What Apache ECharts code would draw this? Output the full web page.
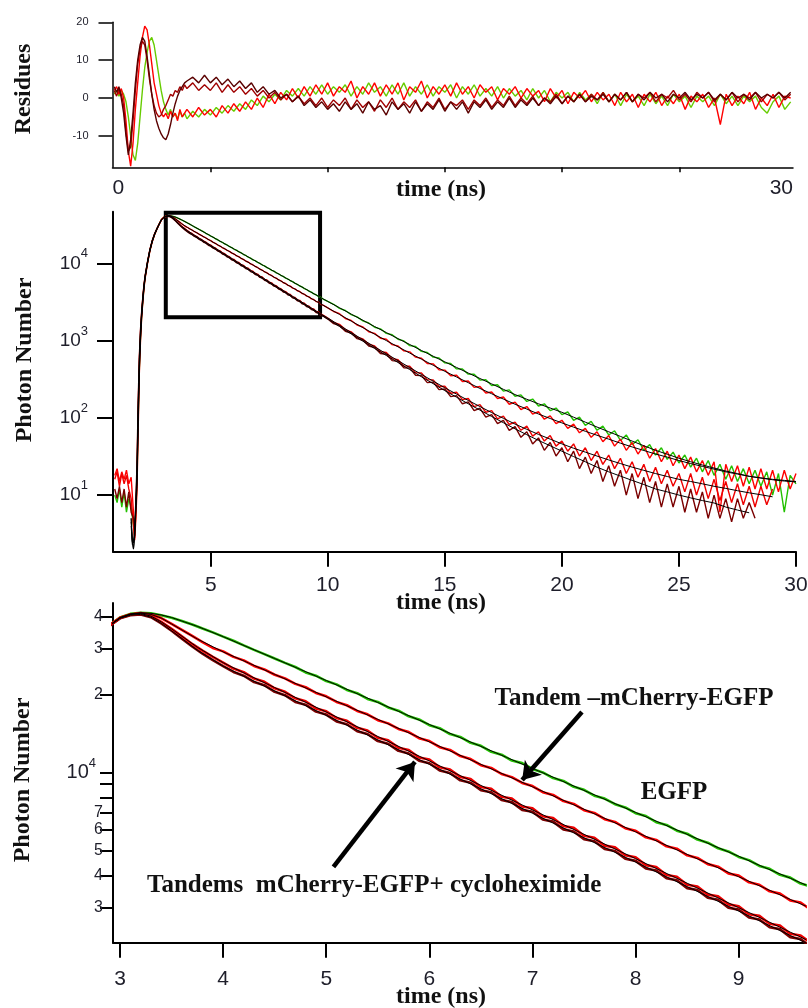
<!DOCTYPE html>
<html><head><meta charset="utf-8">
<script src="https://cdn.jsdelivr.net/npm/echarts@6/dist/echarts.min.js"></script>
<style>html,body{margin:0;padding:0;background:#fff}#c{width:808px;height:1008px}</style>
</head><body><div id="c"></div>
<script>
// ---- time channels: [start (ns), step (ns), count] ----
const decayChannels = [[0.9,0.1,9],[1.75,0.05,10],[2.3,0.1,76],[10,0.25,81]];
const fitChannels = [[1.6,0.05,13],[2.3,0.1,13],[3.75,0.25,26],[10.5,0.5,40]];
const residueChannels = [[0.9,0.1,32],[4.25,0.25,103]];

// ---- photon counts (data) ----
const egfpCounts = [
 10,8,12,7,11,6,9,7,4,
 3,6,14,90,420,1100,2100,3300,5000,6700,
 10200,14600,19200,23600,27800,32300,37000,39600,40900,41300,
 41100,40400,39500,38400,37200,35900,34700,33400,32200,30900,
 29700,28600,27500,26450,25500,24300,23600,22500,21850,20800,
 20200,19200,18700,17800,17300,16450,16000,15200,14800,14050,
 13700,13000,12650,12000,11700,11100,10850,10300,9990,9500,
 9260,8790,8560,8120,7920,7530,7320,6950,6780,6420,
 6260,5950,5790,5500,5350,5090,4950,4710,4580,4350,
 4240,4020,3920,3720,3620,3450,
 3210,2950,2610,2450,2170, 2030,1800,1690,1490, 1420,1240,1190,1040, 990,860,840,725,
 700,610,595,515, 505,430,428,368, 366,308,312,262, 268,222,230,190, 198,163,175,142,
 152,124,134,110, 119,93,102,80, 90,69,78,60, 68,51,60,45, 52,38,45,33, 41,29,36,26,
 33,23,30,20, 28,18,25,16, 24,15,22,14, 21,13,20,10, 19,6,18,14
];
const tandemCounts = [
 18,22,15,20,16,21,14,17,6,
 2.6,5,12,70,380,1000,2000,3200,4800,6500,
 10000,14400,19000,23400,27600,32100,36800,39400,40700,41200,
 40700,39400,37400,35500,33600,31800,30200,29300,27900,27050,
 25750,24950,23800,23050,21950,21300,20250,19650,18700,18150,
 17250,16750,15900,15450,14700,14300,13550,13200,12500,12200,
 11550,11250,10650,10400,9850,9580,9100,8850,8380,8180,
 7740,7550,7140,6970,6590,6430,6080,5940,5610,5480,
 5180,5070,4780,4670,4420,4320,4070,3990,3760,3680,
 3470,3400,3200,3140,2950,2880,
 2650,2380,2230,1930,1820, 1590,1500,1300,1240, 1070,1040,885,850, 735,715,610,590,
 505,500,420,415, 350,356,296,300, 248,254,210,216, 178,186,150,160, 128,140,112,120,
 96,106,84,93, 73,83,64,73, 56,66,49,59, 43,53,38,48, 34,44,30,40, 27,37,24,33,
 22,31,20,28, 18,27,6,25, 15,24,13,23, 12,22,12,21, 11,21,12,19
];
const cyclo1Counts = [
 16,20,13,19,14,18,12,9,4,
 2.8,6,18,130,560,1300,2300,3600,5200,6900,
 10400,14900,19500,23900,28000,32400,37000,39500,40700,41000,
 40100,38100,35800,33500,31300,29500,27900,26500,25150,24350,
 23000,22350,21100,20450,19300,18800,17650,17200,16200,15800,
 14850,14500,13600,13300,12450,12200,11400,11200,10450,10250,
 9600,9420,8780,8640,8050,7920,7380,7260,6760,6660,
 6200,6100,5690,5590,5210,5130,4780,4700,4380,4310,
 4010,3950,3680,3620,3370,3320,3090,3040,2830,2790,
 2600,2560,2380,2345,2190,2140,
 1960,1720,1620,1390,1300, 1110,1050,900,850, 720,700,585,565, 470,465,385,380,
 312,310,255,256, 208,214,172,178, 140,148,118,124, 97,105,82,88, 69,78,58,66,
 50,59,43,50, 37,46,32,41, 28,37,25,33, 22,30,19,27, 17,25,15,23, 14,21,13,19,
 11,19,10,17, 9,16,8.5,15, 8,14,7.5,13, 7,13,7.5,12
];
const cyclo2Counts = [
 12,9,13,8,12,7,11,6,5,
 3.5,8,25,160,620,1400,2400,3700,5300,7000,
 10500,15000,19600,24000,28100,32300,36900,39300,40400,40700,
 39700,37600,35200,32800,30600,28700,27100,25700,24400,23600,
 22300,21700,20450,19850,18700,18250,17150,16700,15720,15330,
 14400,14060,13200,12890,12100,11820,11090,10840,10160,9940,
 9310,9120,8530,8370,7820,7670,7160,7040,6570,6450,
 6020,5910,5520,5420,5060,4970,4640,4550,4250,4180,
 3900,3830,3570,3510,3280,3220,3000,2950,2750,2700,
 2520,2480,2310,2270,2120,2080,
 1900,1660,1560,1320,1250, 1060,1010,850,815, 680,665,550,540, 445,440,356,352,
 286,290,232,236, 188,194,152,161, 124,133,102,110, 84,93,69,77, 56,66,46,55,
 38,48,32,41, 27,37,22,31, 19,28,15,24, 13,21,10,19, 9,17,8,15, 7,14,7,13,
 6,12,6,11, 5,10,5,9, 4.5,9,5,8, 5
];

// ---- fitted decays ----
const egfpFit = [
 5,2.5,2.0,3.0,7,15,95,430,1100,2100,3300,5000,6700,
 10200,14600,19200,23600,27800,32300,37000,39600,40900,41300,41100,40500,39600,
 36600,33400,30300,27500,24950,22620,20510,18600,16870,15300,13870,12590,11410,
 10350,9390,8510,7720,7000,6350,5760,5220,4740,4290,3900,3530,3210,
 2660,2200,1830,1520,1270,1060,890,745,628,530,449,380,323,275,234,200,174,152,134,118,
 102,88,76,66,57.5,50,43.5,38,33.8,30,27,24.5,22.4,20.5,19,17.5,16.7,16,15.5,15
];
const tandemFit = [
 5,2.5,2.0,2.8,6,13,75,390,1000,2000,3200,4800,6500,
 10000,14400,19000,23400,27600,32100,36800,39400,40700,41200,40700,39400,37400,
 32700,29170,26400,23880,21610,19560,17700,16010,14490,13110,11860,10730,9710,
 8790,7950,7200,6510,5890,5330,4820,4365,3950,3575,3230,2925,2650,
 2180,1790,1470,1210,1000,830,690,575,480,400,338,285,240,205,175,150,130,112,98,86,
 75.8,67,59.5,53,47,42,37.8,34,31,28,25.6,23.5,21.7,20,18.7,17.5,16.6,15.8,15.2,14.8
];
const cyclo1Fit = [
 4,2.3,2.2,3,7,18,125,540,1280,2300,3600,5200,6900,
 10400,14900,19500,23900,28000,32400,37000,39500,40700,41000,40100,38100,35800,
 30400,26500,23670,21240,19050,17090,15330,13750,12330,11060,9920,8900,7985,
 7160,6425,5760,5170,4640,4160,3730,3345,3000,2695,2415,2165,1960,
 1580,1270,1027,830,675,550,448,365,299,245,203,168,140,117,98.6,83,71,61,53,46,
 40.4,36,32,28.5,25.6,23,20.9,19,17.4,16,15,14,13,12.2,11.4,10.7,10.1,9.5
];
const cyclo2Fit = [
 4.5,2.6,2.4,3.6,8,24,155,600,1380,2400,3700,5300,7000,
 10500,15000,19600,24000,28100,32300,36900,39300,40400,40700,39700,37600,35200,
 29600,25700,22960,20600,18480,16580,14870,13340,11960,10730,9620,8635,7745,
 6950,6230,5590,5015,4500,4035,3620,3245,2910,2615,2345,2100,1900,
 1520,1220,982,790,641,520,421,340,277,225,185,152,126,104,86.5,72,60.5,51,43.5,37,
 31.5,27,23,20,17.6,15.5,13.7,12,11,10,9.2,8.5,7.9,7.0,6.4,5.9
];

// ---- residues ----
const resGreen = [
 1,2,0.5,2,1,-1,-5,-10,-15,-16.5, -12,-5,2,8,12,15,16,14,10,6, 2,-1,-3,-4.5,-3,-5,-4,-5.5,-3.5,-5, -4,-5.5,
 -3.5,-5,-3,-4.5, -2.5,-4,-2,-3.5, -1.5,-3,-0.5,-2, 0.5,-1,1,-0.5, 2,0.5,2.5,0.5, 3,1,3.5,1,
 3,1.5,3.5,0.5, 3,1,4,1.5, 3,0.5,3.5,1, 4,0.5,3,1, 3.5,0.5,3,1.5, 3.5,0,3,1, 3.5,0.5,2.5,0.5,
 3,0,2.5,0.5, 2,-0.5,2.5,0, 2,-1,1.5,0, 1.5,-1,1.5,-0.5, 1,-1.5,1.5,-1, 1,-2,1,-1, 0.5,-2,1,-1.5,
 0.5,-2,1,-1, 0.5,-2.5,0.5,-1, 0.5,-2,1,-1.5, 0.5,-2,0.5,-1, 0.5,-2.5,-4,-1, 0.5,-3,-1
];
const resRed = [
 2,3,1,2.5,0,-6,-14,-18,-12,-3, 4,11,16,19,18,14,9,4,1,-2, -4,-5,-4,-5.5,-3.5,-5,-4,-6,-3,-5, -4,-3,
 -5,-2.5,-4.5,-3, -5,-2,-4,-1.5, -3.5,-1,-3,0, -2.5,1,-1.5,1.5, -0.5,2.5,0,3, 0.5,3.5,1,4,
 0.5,3,1.5,4.5, 0,3,1,4, 0.5,3.5,1,4, -0.5,3,1.5,4.5, 0,3,1,3.5, 0.5,4,1,3, 0,3.5,1.5,3,
 -0.5,2.5,1,3, 0,2.5,0.5,2, -1,2.5,0,2, -1.5,1.5,0,2, -1,1.5,-0.5,1, -2,1.5,-1,1, -2.5,1,-1,1.5,
 -2,0.5,-1.5,1, -3,0.5,-1,1, -2.5,0,-7,1, -2,0.5,-1.5,1.5, -3,0,-2,1, -2.5,0.5,0
];
const resDark = [
 2,0.5,2.5,1,-2,-9,-14,-13,-6,2, 9,13,15,14,10,5,1,-2,-4,-5, -4.5,-3,-2,-0.5,1,0.5,2,1.5,3,2, 3.5,2.5,
 4,2,3.5,2, 4,1.5,3.5,1.5, 3,1,2.5,0.5, 2,0,1.5,-0.5, 1,-1,0.5,-1.5, 0,-2,0,-2.5,
 -0.5,-2,0,-3, -0.5,-2.5,-1,-3.5, -0.5,-2.5,0,-3, -1,-2.5,-0.5,-3.5, -1,-2.5,0,-3, -1,-2,-0.5,-3, -0.5,-2,0,-2.5,
 -0.5,-2,0.5,-2, 0,-1.5,0.5,-2, 0,-1,1,-1.5, 0.5,-1,1,-1, 1,-0.5,1.5,-1, 1,-0.5,1.5,-1, 1,0,1.5,-1,
 1,0,2,-0.5, 1,-1,1.5,0, 1.5,-1,1,-0.5, 1.5,-1,1,0, 1.5,-1,1,0, 1.5,-0.5,1
];
const resMaroon = [
 3,1.5,3,0,-4,-10,-15,-11,-4,4, 10,14,16,15,11,6,1,-3,-6,-8, -9.5,-10.5,-11,-9.5,-7,-4,-1.5,0.5,2,3, 4,4.5,
 5.5,4,6,4, 5.5,3.5,5,3, 4.5,2.5,4,1.5, 3,1,2,0, 1,-1,0.5,-2, -0.5,-2.5,-1,-3,
 -1.5,-3.5,-1,-3, -1.5,-4,-1,-3, -2,-4.5,-1,-3, -1.5,-4,-1,-3.5, -1.5,-3,-0.5,-3.5, -1,-3,-1,-4, -1,-2.5,-0.5,-3,
 -1,-2.5,0,-2.5, -0.5,-2,0,-2, 0,-1.5,0.5,-1.5, 0.5,-1,1,-1, 0.5,-0.5,1,-1, 1,-0.5,1.5,-1, 1,-0.5,1.5,0,
 1,-1,1,0, 1.5,-0.5,1,0, 1.5,-0.5,1,-0.5, 1.5,0,1,-0.5, 1.5,0,1,0, 1.5,0,1.5
];

// ---- axis tick values ----
const resYTicks = [-10,0,10,20];
const resXTicks = [5,10,15,20,25];
const midXTicks = [5,10,15,20,25,30];
const midYTicks = [10,100,1000,10000];
const zoomXTicks = [3,4,5,6,7,8,9];
const zoomYTicks = [3000,4000,5000,6000,7000,8000,9000,10000,20000,30000,40000];
const zoomYLabels = [3000,4000,5000,6000,7000,10000,20000,30000,40000];

// ---- annotations (data coordinates) ----
const zoomBox = {t:[3.08,9.67], n:[2000,45200]};
const arrows = [
 {from:[7.48,17100], to:[6.90,9340]},
 {from:[5.07,4310], to:[5.86,10960]}
];

// ---------------------------------------------------------------
function channelTimes(segs){const t=[];segs.forEach(([s,d,n])=>{for(let i=0;i<n;i++)t.push(Math.round((s+i*d)*1000)/1000);});return t;}
function pairs(times,vals){return vals.map((v,i)=>[times[i],v]);}
const decayT=channelTimes(decayChannels), fitT=channelTimes(fitChannels), resT=channelTimes(residueChannels);

const TXT='#1e1e2a', SANS='Liberation Sans';
const dataSets=[
 {vals:egfpCounts,color:'#22c000'},
 {vals:tandemCounts,color:'#ff0000'},
 {vals:cyclo1Counts,color:'#ee0000'},
 {vals:cyclo2Counts,color:'#7a0000'}
];
const fitSets=[egfpFit,tandemFit,cyclo1Fit,cyclo2Fit];
const resSets=[
 {vals:resGreen,color:'#66cc00'},
 {vals:resRed,color:'#ff0000'},
 {vals:resDark,color:'#a00000'},
 {vals:resMaroon,color:'#5a0000'}
];

const axLine=(w)=>({show:true,onZero:false,lineStyle:{color:'#000',width:w}});
const line=(p,data,color,width,z)=>({type:'line',xAxisIndex:p,yAxisIndex:p,data,symbol:'none',silent:true,itemStyle:{color},lineStyle:{color,width},z});
const series=[];
resSets.forEach(s=>series.push(line(0,pairs(resT,s.vals),s.color,1.4,2)));
// overview panel: data below, thin fits on top
dataSets.forEach(s=>series.push(line(1,pairs(decayT,s.vals),s.color,1.4,2)));
fitSets.forEach(f=>series.push(line(1,pairs(fitT,f),'#000',1,3)));
// zoom panel: coloured data drawn wide underneath, thin black fits on top
[0,1,3,2].forEach(i=>series.push(line(2,pairs(decayT,dataSets[i].vals),dataSets[i].color,2.6,2)));
fitSets.forEach(f=>series.push(line(2,pairs(fitT,f),'#000',1,3)));

// zoom box on overview panel
series.push({type:'line',xAxisIndex:1,yAxisIndex:1,data:[],silent:true,z:5,
 markArea:{silent:true,itemStyle:{color:'rgba(0,0,0,0)',borderColor:'#000',borderWidth:4},label:{show:false},
  data:[[{coord:[zoomBox.t[0],zoomBox.n[1]]},{coord:[zoomBox.t[1],zoomBox.n[0]]}]]}});
// arrows on zoom panel
series.push({type:'line',xAxisIndex:2,yAxisIndex:2,data:[],silent:true,z:5,
 markLine:{silent:true,animation:false,itemStyle:{color:'#000'},label:{show:false},lineStyle:{color:'#000',width:4.5,type:'solid'},
  symbol:['none','arrow'],symbolSize:16,
  data:arrows.map(a=>[{coord:a.from,symbol:'none'},{coord:a.to,symbol:'arrow',symbolSize:17}])}});

const title=(x,y,text,rot,size,align)=>({type:'text',x,y,rotation:rot||0,z:10,style:{text,font:'bold '+(size||24)+'px "Liberation Serif"',fill:'#111',
 align:align||'center',verticalAlign:'middle',textAlign:align||'center',textVerticalAlign:'middle'}});

const option={
 animation:false,
 grid:[
  {left:112.5,top:22.3,width:680.5,height:145,containLabel:false,outerBoundsMode:'none'},
  {left:113,top:211.7,width:683,height:340,containLabel:false,outerBoundsMode:'none'},
  {left:113,top:603,width:692,height:339.7,containLabel:false,outerBoundsMode:'none'}
 ],
 xAxis:[
  {gridIndex:0,type:'value',min:0.825,max:29.85,axisLine:axLine(1.5),splitLine:{show:false},
   axisTick:{customValues:resXTicks,length:5,lineStyle:{color:'#000',width:1.5}},
   axisLabel:{customValues:[0.825,29.85],formatter:v=>v<5?'0':'30',fontSize:21,fontFamily:SANS,color:TXT,margin:10,alignMinLabel:'left',alignMaxLabel:'right'}},
  {gridIndex:1,type:'value',min:0.825,max:30,axisLine:axLine(2),splitLine:{show:false},
   axisTick:{customValues:midXTicks,length:15,lineStyle:{color:'#000',width:2}},
   axisLabel:{customValues:midXTicks,fontSize:21,fontFamily:SANS,color:TXT,margin:23}},
  {gridIndex:2,type:'value',min:2.932,max:9.643,axisLine:axLine(2),splitLine:{show:false},
   axisTick:{customValues:zoomXTicks,length:15,lineStyle:{color:'#000',width:2}},
   axisLabel:{customValues:zoomXTicks,fontSize:21,fontFamily:SANS,color:TXT,margin:26}}
 ],
 yAxis:[
  {gridIndex:0,type:'value',min:-18.3,max:20,axisLine:axLine(1.5),splitLine:{show:false},
   axisTick:{customValues:resYTicks,length:14,lineStyle:{color:'#000',width:1.5}},
   axisLabel:{customValues:resYTicks,fontSize:11,fontFamily:SANS,color:TXT,margin:24}},
  {gridIndex:1,type:'log',logBase:10,min:1.85,max:46600,axisLine:axLine(2),splitLine:{show:false},
   axisTick:{customValues:midYTicks,length:16,lineStyle:{color:'#000',width:2}},
   axisLabel:{customValues:midYTicks,margin:25,
    formatter:v=>'{b|10}{s|'+Math.round(Math.log10(v))+'}',
    rich:{b:{fontSize:19,lineHeight:32,fontFamily:SANS,color:TXT},s:{fontSize:13,lineHeight:14,verticalAlign:'top',fontFamily:SANS,color:TXT}}}},
  {gridIndex:2,type:'log',logBase:10,min:2198,max:45050,axisLine:axLine(2),splitLine:{show:false},
   axisTick:{customValues:zoomYTicks,length:13,lineStyle:{color:'#000',width:2}},
   axisLabel:{customValues:zoomYLabels,margin:10,
    formatter:v=>{const r=Math.round(v);if(r===10000)return '{b|10}{s|4}';return '{d|'+Math.round(r>=10000?r/10000:r/1000)+'}';},
    rich:{d:{fontSize:16,fontFamily:SANS,color:TXT},b:{fontSize:20,lineHeight:30,fontFamily:SANS,color:TXT},s:{fontSize:13,lineHeight:13,verticalAlign:'top',padding:[0,7,0,0],fontFamily:SANS,color:TXT}}}}
 ],
 series:series,
 graphic:[
  title(24,89,'Residues',Math.PI/2),
  title(25,360,'Photon Number',Math.PI/2),
  title(23,780,'Photon Number',Math.PI/2),
  title(441,190,'time (ns)'),
  title(441,603,'time (ns)'),
  title(441,997,'time (ns)'),
  title(634,699,'Tandem \u2013mCherry-EGFP',0,25),
  title(674,793,'EGFP',0,25),
  title(147,886,'Tandems  mCherry-EGFP+ cycloheximide',0,25,'left')
 ]
};
const chart=echarts.init(document.getElementById('c'),null,{renderer:'canvas'});
chart.setOption(option);
</script></body></html>
